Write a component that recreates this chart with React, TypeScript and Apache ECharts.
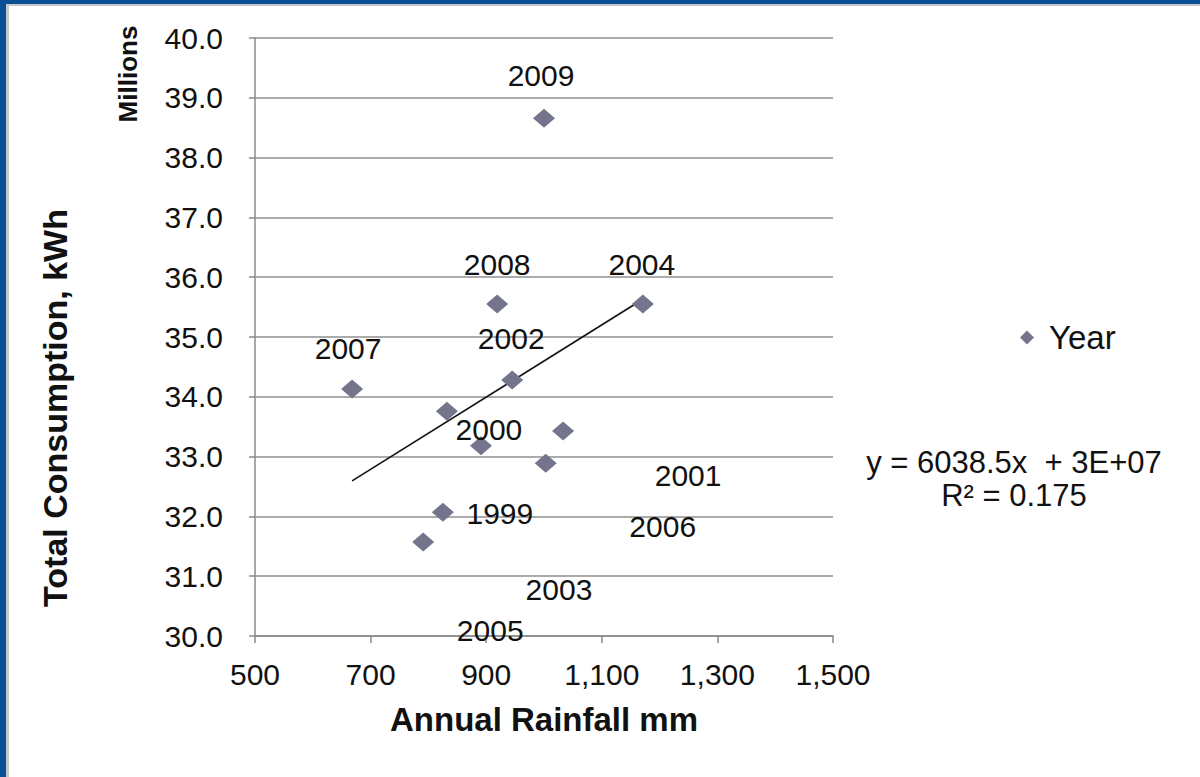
import React, { useEffect, useRef } from "react";
import * as echarts from "echarts";

// ---- Data ----
const years = ["1999", "2000", "2001", "2002", "2003", "2004", "2005", "2006", "2007", "2008", "2009"];
const rainfallMm = [825, 832, 1033, 945, 891, 1171, 791, 1003, 668, 919, 1000];
const consumptionMillionKWh = [32.07, 33.76, 33.43, 34.28, 33.18, 35.55, 31.57, 32.89, 34.13, 35.55, 38.66];

// Trendline (Excel linear fit): y = 6038.5x + b  (kWh)
const trendSlope = 6038.5;
const trendIntercept = 28.56e6;
const rSquared = 0.175;

// label placement (pixel offsets from each point, as in the original)
const labelOffsets = [
  [57, 1], [42, 18], [125, 45], [-1, -42], [78, 144], [-1, -40],
  [67, 88], [117, 63], [-4, -41], [0, -40], [-3, -43],
];

const FONT = "'Liberation Sans', Arial, sans-serif";
const INK = "#111111";

export default function App() {
  const ref = useRef<HTMLDivElement>(null);

  useEffect(() => {
    document.body.style.margin = "0";
    if (!ref.current) return;
    const chart = echarts.init(ref.current, null, { renderer: "svg" });

    const xMin = Math.min(...rainfallMm);
    const xMax = Math.max(...rainfallMm);
    const trend = [xMin, xMax].map((x) => [x, (trendSlope * x + trendIntercept) / 1e6]);

    const points = years.map((yr, i) => ({
      name: yr,
      value: [rainfallMm[i], consumptionMillionKWh[i]],
      label: { offset: labelOffsets[i] },
    }));

    chart.setOption({
      animation: false,
      backgroundColor: "#ffffff",
      textStyle: { fontFamily: FONT },
      grid: { left: 255, right: 367, top: 38, bottom: 141, containLabel: false },
      xAxis: {
        type: "value",
        min: 500,
        max: 1500,
        interval: 200,
        name: "Annual Rainfall mm",
        nameLocation: "middle",
        nameGap: 67,
        nameTextStyle: { fontFamily: FONT, fontSize: 33, fontWeight: "bold", color: INK },
        axisLine: { show: true, lineStyle: { color: "#8a8a8a", width: 1.5 } },
        axisTick: { show: true, inside: false, length: 7, lineStyle: { color: "#8a8a8a", width: 1.5 } },
        splitLine: { show: false },
        axisLabel: {
          fontFamily: FONT,
          fontSize: 30,
          color: INK,
          margin: 23,
          formatter: (v: number) => v.toLocaleString("en-US"),
        },
      },
      yAxis: {
        type: "value",
        min: 30,
        max: 40,
        interval: 1,
        axisLine: { show: true, lineStyle: { color: "#8a8a8a", width: 1.5 } },
        axisTick: { show: true, inside: false, length: 6, lineStyle: { color: "#8a8a8a", width: 1.5 } },
        splitLine: { show: true, lineStyle: { color: "#8f8f8f", width: 1.6 } },
        axisLabel: {
          fontFamily: FONT,
          fontSize: 30,
          color: INK,
          margin: 32,
          formatter: (v: number) => v.toFixed(1),
        },
      },
      legend: {
        show: true,
        data: [{ name: "Year", icon: "diamond" }],
        left: 1015,
        top: 316,
        itemWidth: 14,
        itemHeight: 14,
        textStyle: { fontFamily: FONT, fontSize: 33, color: INK, padding: [0, 0, 0, 10] },
      },
      series: [
        {
          name: "Year",
          type: "scatter",
          symbol: "diamond",
          symbolSize: [22, 19],
          itemStyle: { color: "#74748c", opacity: 1 },
          data: points,
          label: {
            show: true,
            position: "inside",
            formatter: "{b}",
            fontFamily: FONT,
            fontSize: 30,
            color: INK,
            opacity: 1,
            textBorderWidth: 0,
            textBorderColor: "transparent",
          },
          z: 3,
        },
        {
          name: "Linear (Year)",
          type: "line",
          data: trend,
          symbol: "none",
          lineStyle: { color: "#111111", width: 1.6 },
          z: 2,
        },
      ],
      graphic: [
        { type: "rect", shape: { x: 0, y: 0, width: 1200, height: 4 }, style: { fill: "#0b4f94" }, z: 100 },
        { type: "rect", shape: { x: 0, y: 0, width: 6, height: 777 }, style: { fill: "#0b4f94" }, z: 100 },
        { type: "rect", shape: { x: 6, y: 4, width: 1194, height: 2 }, style: { fill: "#c8c8c8" }, z: 100 },
        { type: "rect", shape: { x: 6, y: 4, width: 3, height: 773 }, style: { fill: "#c8c8c8" }, z: 100 },
        {
          type: "text",
          x: 55,
          y: 408,
          rotation: Math.PI / 2,
          style: {
            text: "Total Consumption, kWh",
            fontFamily: FONT,
            fontSize: 34,
            fontWeight: "bold",
            fill: INK,
            textAlign: "center",
            textVerticalAlign: "middle",
          },
        },
        {
          type: "text",
          x: 128,
          y: 74,
          rotation: Math.PI / 2,
          style: {
            text: "Millions",
            fontFamily: FONT,
            fontSize: 26,
            fontWeight: "bold",
            fill: INK,
            textAlign: "center",
            textVerticalAlign: "middle",
          },
        },
        {
          type: "text",
          x: 1014,
          y: 479,
          style: {
            text: `y = ${trendSlope}x  + 3E+07\nR² = ${rSquared}`,
            fontFamily: FONT,
            fontSize: 31,
            lineHeight: 33,
            fill: INK,
            textAlign: "center",
            textVerticalAlign: "middle",
          },
        },
      ],
    });

    return () => chart.dispose();
  }, []);

  return <div ref={ref} style={{ width: 1200, height: 777 }} />;
}
